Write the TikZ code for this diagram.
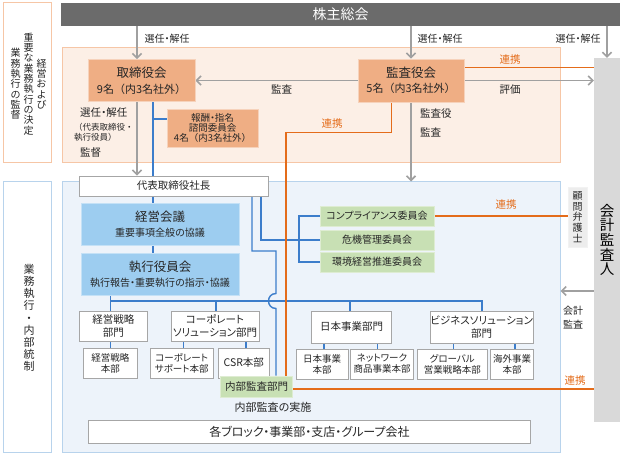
\documentclass[tikz,border=0pt]{standalone}
\usepackage{fontspec}
\setmainfont[RawFeature={+palt}]{Noto Sans CJK JP}
\newfontfamily\fullwfont{Noto Sans CJK JP}
\usetikzlibrary{arrows.meta}
\pgfdeclarelayer{bg}
\pgfdeclarelayer{ln}
\pgfsetlayers{bg,ln,main}
\newcommand{\myfs}[2]{\fontsize{#1}{#2}\selectfont}
\definecolor{peachfill}{HTML}{FCEFE6}
\definecolor{peachline}{HTML}{F6C6A6}
\definecolor{orgbox}{HTML}{EFAE84}
\definecolor{orgline}{HTML}{E46C1A}
\definecolor{bluefill}{HTML}{EDF3FA}
\definecolor{blueline}{HTML}{B8D3EC}
\definecolor{bluebox}{HTML}{9DCDF0}
\definecolor{bluewire}{HTML}{3C7DCB}
\definecolor{greenbox}{HTML}{C8E0B4}
\definecolor{darkbar}{HTML}{6B6B6B}
\definecolor{arrowgray}{HTML}{A0A0A0}
\definecolor{colgray}{HTML}{D9D9D9}
\definecolor{lawgray}{HTML}{EDEDED}
\definecolor{txt}{HTML}{262626}
\definecolor{boxborder}{HTML}{A6A6A6}
\begin{document}
\begin{tikzpicture}[x=1pt,y=-1pt,
  wbox/.style={draw=boxborder, fill=white, line width=0.9pt, inner sep=0pt, align=center, text=txt},
  obox/.style={draw=orgbox!55!white, fill=orgbox, line width=0.8pt, inner sep=0pt, align=center, text=txt},
  bbox/.style={fill=bluebox, draw=bluebox!60!white, line width=0.8pt, inner sep=0pt, align=center, text=txt},
  gbox/.style={fill=greenbox, draw=greenbox!60!white, line width=0.8pt, inner sep=0pt, align=center, text=txt},
  garrow/.style={draw=arrowgray, line width=1.6pt, -{Straight Barb[length=4.5pt,width=9pt]}},
  bwire/.style={draw=bluewire, line width=1.4pt},
  owire/.style={draw=orgline, line width=1.4pt},
  lbl/.style={text=txt, inner sep=0pt, font=\myfs{10}{12}},
  olbl/.style={text=orgline, inner sep=0pt, font=\myfs{10.5}{12}},
  dept/.style={wbox, font=\myfs{10.5}{12.5}, minimum height=30pt},
  hq/.style={wbox, font=\myfs{9.5}{11}, minimum height=30pt},
  cmte/.style={gbox, font=\myfs{10}{12}, minimum width=114pt, minimum height=20pt}]
\useasboundingbox (0,0) rectangle (624,454);
\begin{pgfonlayer}{bg}
\fill[white] (0,0) rectangle (624,454);
\node[draw=peachline, fill=peachfill, line width=1pt, inner sep=0pt, minimum width=498pt, minimum height=115pt] (up) at (311,105.5) {};
\node[draw=blueline, fill=bluefill, line width=1pt, inner sep=0pt, minimum width=498pt, minimum height=270pt] (lo) at (311,317) {};
\node[draw=peachline, fill=white, line width=1pt, inner sep=0pt, minimum width=48pt, minimum height=160pt] (lt) at (27,83) {};
\node[draw=blueline, fill=white, line width=1pt, inner sep=0pt, minimum width=48pt, minimum height=270pt] (lb) at (27,317) {};
\end{pgfonlayer}
% left labels
\node[text=txt, align=center, inner sep=0pt, font=\myfs{10}{10.3}] (c1) at (41.5,84) {経\\営\\お\\よ\\び};
\node[text=txt, align=center, inner sep=0pt, font=\myfs{10}{10.3}] (c2) at (28.5,84) {重\\要\\な\\業\\務\\執\\行\\の\\決\\定};
\node[text=txt, align=center, inner sep=0pt, font=\myfs{10}{10.3}] (c3) at (15.5,84) {業\\務\\執\\行\\の\\監\\督};
\node[text=txt, align=center, inner sep=0pt, font=\myfs{11}{12.2}] (c4) at (29,318) {業\\務\\執\\行\\・\\内\\部\\統\\制};
% top bar and auditor column
\node[fill=darkbar, inner sep=0pt, minimum width=559pt, minimum height=23pt, text=white, font=\myfs{14}{16}] (sh) at (340.5,14.5) {株主総会};
\node[fill=colgray, inner sep=0pt, minimum width=26pt, minimum height=364pt, align=center, text=black, font=\myfs{14.5}{14.6}] (ka) at (607,240) {会\\計\\監\\査\\人};
\node[fill=lawgray, draw=lawgray!80!black!20!white, inner sep=0pt, minimum width=19pt, minimum height=60pt, align=center, text=txt, font=\myfs{10}{10.8}] (kb) at (577.5,217) {顧\\問\\弁\\護\\士};
% upper boxes
\node[obox, minimum width=107pt, minimum height=42pt, font=\myfs{12.5}{16}] (tb) at (141.5,80.5) {取締役会\\{\fullwfont\myfs{11}{16}9名（内3名社外）}};
\node[obox, minimum width=106pt, minimum height=43pt, font=\myfs{12.5}{15.5}] (ks) at (411,80.5) {監査役会\\{\fullwfont\myfs{11}{15.5}5名（内3名社外）}};
\node[obox, minimum width=91pt, minimum height=38pt, font=\myfs{9.5}{10.3}] (hs) at (212.5,128) {報酬・指名\\諮問委員会\\{\fullwfont 4名（内3名社外）}};
% lower boxes
\node[wbox, minimum width=189pt, minimum height=20pt, font=\myfs{10.5}{12}] (ds) at (173.5,186) {代表取締役社長};
\node[bbox, minimum width=158pt, minimum height=42pt, font=\myfs{12.5}{15}] (km) at (160,224) {経営会議\\{\myfs{10}{15}重要事項全般の協議}};
\node[bbox, minimum width=158pt, minimum height=42pt, font=\myfs{12.5}{14.5}] (sy) at (160,274) {執行役員会\\{\myfs{10}{14.5}執行報告・重要執行の指示・協議}};
\node[cmte] (cp) at (377,216) {コンプライアンス委員会};
\node[cmte] (kk) at (377,240) {危機管理委員会};
\node[cmte] (kh) at (377,262) {環境経営推進委員会};
\node[dept, minimum width=68pt] (d1) at (113.3,326) {経営戦略\\部門};
\node[dept, minimum width=88pt] (d2) at (215,326) {コーポレート\\ソリューション部門};
\node[dept, minimum width=80pt, minimum height=32pt] (d3) at (351.7,327) {日本事業部門};
\node[dept, minimum width=98pt, minimum height=32pt] (d4) at (481.7,327) {ビジネスソリューション\\部門};
\node[hq, minimum width=54pt] (h1) at (110.3,363) {経営戦略\\本部};
\node[hq, minimum width=63pt] (h2) at (181.7,363) {コーポレート\\サポート本部};
\node[hq, minimum width=51pt, font=\myfs{10.5}{12}] (h3) at (243.8,363) {CSR本部};
\node[hq, minimum width=52pt] (h4) at (322,364) {日本事業\\本部};
\node[hq, minimum width=63pt] (h5) at (382,364) {ネットワーク\\商品事業本部};
\node[hq, minimum width=70pt] (h6) at (452.3,364) {グローバル\\営業戦略本部};
\node[hq, minimum width=43pt] (h7) at (512,364) {海外事業\\本部};
\node[gbox, minimum width=72pt, minimum height=21pt, font=\myfs{10.5}{12}] (na) at (256.5,386.5) {内部監査部門};
\node[wbox, minimum width=442pt, minimum height=23pt, font=\myfs{12}{14}] (all) at (309.5,432) {各ブロック・事業部・支店・グループ会社};
% labels
\node[lbl] (l1) at (167,39) {選任・解任};
\node[lbl] (l2) at (440,39) {選任・解任};
\node[lbl] (l3) at (578,39) {選任・解任};
\node[lbl, font=\myfs{10.5}{12}] (l4) at (281.7,89.5) {監査};
\node[lbl, font=\myfs{10.5}{12}] (l5) at (510,89.5) {評価};
\node[olbl] (l6) at (510,60) {連携};
\node[olbl] (l7) at (332,123.5) {連携};
\node[olbl] (l8) at (506,205) {連携};
\node[olbl] (l9) at (575,381) {連携};
\node[lbl, anchor=west, font=\myfs{10.5}{12}] (l10) at (420,114) {監査役};
\node[lbl, anchor=west, font=\myfs{10.5}{12}] (l11) at (420,132) {監査};
\node[lbl, anchor=west, font=\myfs{10.5}{12}] (l12) at (80,113) {選任・解任};
\node[lbl, anchor=west, font=\fullwfont\myfs{8.5}{10}] (l13) at (74,127) {（代表取締役・};
\node[lbl, anchor=west, font=\fullwfont\myfs{8.5}{10}] (l14) at (74,137.5) {執行役員）};
\node[lbl, anchor=west, font=\myfs{10.5}{12}] (l15) at (80,153) {監督};
\node[lbl, align=center, font=\myfs{10}{13.5}] (l16) at (573,317.5) {会計\\監査};
\node[lbl, font=\myfs{11}{13}] (l17) at (273,407) {内部監査の実施};
% connectors
\begin{pgfonlayer}{ln}
\coordinate (g1) at (137,26);
\draw[garrow] (g1) -- (g1 |- tb.north);
\draw[garrow] (ks.north |- sh.south) -- (ks.north);
\draw[garrow] (ka.north |- sh.south) -- (ka.north);
\draw[garrow] (ks.west) -- (tb.east);
\draw[garrow] (ks.east) -- (ks.east -| ka.west);
\draw[garrow] (ks.south) -- (ks.south |- lo.north);
\coordinate (g2) at (137,101);
\draw[garrow] (g2) -- (g2 |- ds.north);
\coordinate (g3) at (594,291);
\draw[garrow] (g3) -- (g3 -| lo.east);
% blue wires
\coordinate (b1) at (153,101);
\draw[bwire] (b1) -- (b1 |- sy.north);
\coordinate (b2) at (153,119);
\draw[bwire] (b2) -- (b2 -| hs.west);
\coordinate (bL) at (110.7,301);
\coordinate (bR) at (482,301);
\draw[bwire] (bL |- sy.south) -- (bL) -- (bR) -- (bR |- d4.north);
\draw[bwire] (bL) -- (bL |- d1.north);
\coordinate (bC) at (216,301);
\draw[bwire] (bC) -- (bC |- d2.north);
\coordinate (bJ) at (350,301);
\draw[bwire] (bJ) -- (bJ |- d3.north);
\coordinate (e1) at (110.7,340);
\draw[bwire] (e1) -- (e1 |- h1.north);
\coordinate (e2) at (183.3,340);
\draw[bwire] (e2) -- (e2 |- h2.north);
\coordinate (e3) at (246,340);
\draw[bwire] (e3) -- (e3 |- h3.north);
\coordinate (e4) at (324,342);
\draw[bwire] (e4) -- (e4 |- h4.north);
\coordinate (e5) at (377.3,342);
\draw[bwire] (e5) -- (e5 |- h5.north);
\coordinate (e6) at (453.3,342);
\draw[bwire] (e6) -- (e6 |- h6.north);
\coordinate (e7) at (515,342);
\draw[bwire] (e7) -- (e7 |- h7.north);
\coordinate (r1) at (252,196);
\coordinate (r2) at (276,251);
\draw[bwire] (r1) -- (r1 |- r2) -- (r2) -- (276,293.5) .. controls +(-10,0) and +(-10,0) .. (276,308.5) -- (r2 |- na.north);
\coordinate (q1) at (261,196);
\coordinate (cv) at (299,240);
\draw[bwire] (q1) -- (q1 |- kk.west) -- (kk.west);
\draw[bwire] (cp.west) -- (cp.west -| cv) -- (kh.west -| cv) -- (kh.west);
% orange wires
\coordinate (o1) at (464,67.7);
\draw[owire] (o1) -- (o1 -| ka.west);
\coordinate (o2) at (391.7,102);
\coordinate (o3) at (286,132.7);
\coordinate (o4) at (286,389);
\draw[owire] (o2) -- (o2 |- o3) -- (o3) -- (o4) -- (o4 -| ka.west);
\draw[owire] (cp.east) -- (cp.east -| kb.west);
\end{pgfonlayer}
\end{tikzpicture}
\end{document}
